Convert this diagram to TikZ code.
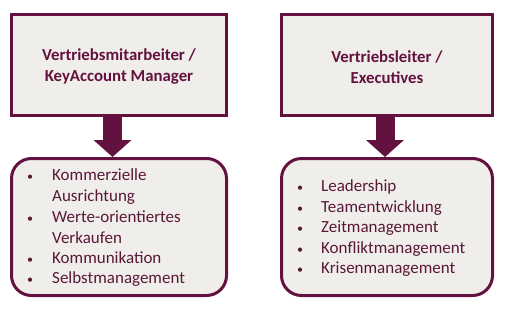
\documentclass[tikz,border=0pt]{standalone}
\usepackage{fontspec}
\setmainfont{Carlito}
\usetikzlibrary{arrows.meta}
\definecolor{plum}{HTML}{63123F}
\definecolor{boxfill}{HTML}{F0EEEA}
\definecolor{txt}{HTML}{5A1838}
\begin{document}
\begin{tikzpicture}[x=1pt,y=-1pt,
  topbox/.style={draw=plum,fill=boxfill,line width=3pt,minimum height=101pt,inner sep=0pt,
    font=\fontsize{16.8}{21}\selectfont\bfseries,text=plum,align=center},
  toptext/.style={inner sep=0pt,font=\fontsize{16.8}{21}\selectfont\bfseries,text=plum,align=center},
  listbox/.style={draw=plum,fill=boxfill,line width=3pt,minimum height=137pt,rounded corners=20pt,inner sep=0pt},
  item/.style={anchor=base west,inner sep=0pt,font=\fontsize{17}{20}\selectfont,text=txt},
  dot/.style={anchor=base,inner sep=0pt,font=\fontsize{12}{17}\selectfont,text=txt},
  blockarrow/.style={draw=plum,line width=19pt,-{Triangle[width=37pt,length=17pt]}}]
\useasboundingbox (0,0) rectangle (505,311);
\node[topbox,minimum width=215pt] (t1) at (119,65) {};
\node[topbox,minimum width=211pt] (t2) at (387,65) {};
\node[toptext] (t1text) at (119,67) {Vertriebsmitarbeiter /\\KeyAccount Manager};
\node[toptext] (t2text) at (387,67) {Vertriebsleiter /\\Executives};
\node[listbox,minimum width=215pt] (b1) at (119,227) {};
\node[listbox,minimum width=211pt] (b2) at (387,227) {};
\draw[blockarrow] ([xshift=-6.5pt]t1.south) -- ([xshift=-6.5pt]b1.north);
\draw[blockarrow] ([xshift=-2pt]t2.south) -- ([xshift=-2pt]b2.north);
% left list
\node[dot] (d1) at (30,180) {•};
\node[item] (l1) at (52,180) {Kommerzielle};
\node[item] (l2) at (52,201) {Ausrichtung};
\node[dot] (d2) at (30,222) {•};
\node[item] (l3) at (52,222) {Werte-orientiertes};
\node[item] (l4) at (52,243) {Verkaufen};
\node[dot] (d3) at (30,263) {•};
\node[item] (l5) at (52,263) {Kommunikation};
\node[dot] (d4) at (30,283) {•};
\node[item] (l6) at (52,283) {Selbstmanagement};
% right list
\node[dot] (e1) at (300,191) {•};
\node[item] (r1) at (321,191) {Leadership};
\node[dot] (e2) at (300,212) {•};
\node[item] (r2) at (321,212) {Teamentwicklung};
\node[dot] (e3) at (300,232) {•};
\node[item] (r3) at (321,232) {Zeitmanagement};
\node[dot] (e4) at (300,253) {•};
\node[item] (r4) at (321,253) {Konfliktmanagement};
\node[dot] (e5) at (300,273) {•};
\node[item] (r5) at (321,273) {Krisenmanagement};
\end{tikzpicture}
\end{document}
